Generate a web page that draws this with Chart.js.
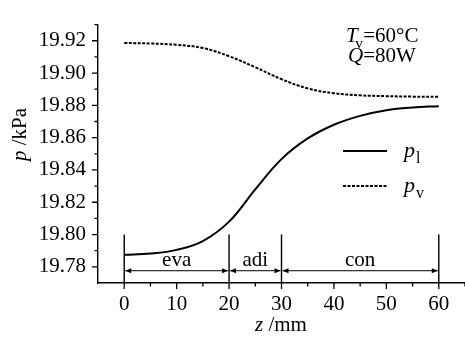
<!DOCTYPE html>
<html>
<head>
<meta charset="utf-8">
<script src="https://cdn.jsdelivr.net/npm/chart.js@4/dist/chart.umd.min.js"></script>
<style>
  html, body { margin: 0; padding: 0; background: #fff; }
  #wrap { width: 465px; height: 337px; position: relative; }
</style>
</head>
<body>
<div id="wrap"><canvas id="chart"></canvas></div>
<script>
// data
const zValues = [0, 5, 10, 15, 20, 25, 30, 35, 40, 45, 50, 55, 60]
const plValues = [19.7875, 19.7882, 19.7905, 19.7960, 19.8080, 19.8280, 19.8467, 19.8595, 19.8680, 19.8735, 19.8770, 19.8787, 19.8795]
const pvValues = [19.9186, 19.9183, 19.9175, 19.9155, 19.9104, 19.9036, 19.8962, 19.8905, 19.8875, 19.8862, 19.8857, 19.8854, 19.8853]

const xTicks = [0, 10, 20, 30, 40, 50, 60]
const xMinor = [5, 15, 25, 35, 45, 55, 65]
const yTicks = [19.78, 19.80, 19.82, 19.84, 19.86, 19.88, 19.90, 19.92]
const yMinor = [19.79, 19.81, 19.83, 19.85, 19.87, 19.89, 19.91, 19.93]

const dividers = [0, 20, 30, 60]
const regionNames = ['eva', 'adi', 'con']
const regionFrom = [0, 20, 30]
const regionTo = [20, 30, 60]
const dividerTop = 19.80
const arrowLevel = 19.7776

const SERIF = '"Liberation Serif", "Times New Roman", serif'

function drawRich(ctx, parts, x, y, size) {
  let cx = x
  parts.forEach(p => {
    const fs = p.sub ? size * 0.72 : size
    ctx.font = `${p.italic ? 'italic ' : ''}${fs}px ${SERIF}`
    ctx.fillText(p.t, cx, y + (p.sub ? size * 0.28 : 0))
    cx += ctx.measureText(p.t).width + (p.gap || 0)
  })
}

const decor = {
  id: 'decor',
  afterDraw(chart) {
    const { ctx, scales: { x, y } } = chart
    ctx.save()
    ctx.strokeStyle = '#000'
    ctx.fillStyle = '#000'
    ctx.lineWidth = 1.3

    // tick marks, outside
    const bottom = y.getPixelForValue(y.min)
    const left = x.getPixelForValue(x.min)
    ctx.beginPath()
    xTicks.forEach(v => { const px = x.getPixelForValue(v); ctx.moveTo(px, bottom); ctx.lineTo(px, bottom + 6) })
    xMinor.forEach(v => { const px = x.getPixelForValue(v); ctx.moveTo(px, bottom); ctx.lineTo(px, bottom + 3.5) })
    yTicks.forEach(v => { const py = y.getPixelForValue(v); ctx.moveTo(left, py); ctx.lineTo(left - 6, py) })
    yMinor.forEach(v => { const py = y.getPixelForValue(v); ctx.moveTo(left, py); ctx.lineTo(left - 3.5, py) })
    ctx.stroke()

    // section dividers
    ctx.lineWidth = 1.4
    ctx.beginPath()
    dividers.forEach(v => {
      const px = x.getPixelForValue(v)
      ctx.moveTo(px, y.getPixelForValue(dividerTop))
      ctx.lineTo(px, bottom)
    })
    ctx.stroke()

    // double arrows and section names
    const ay = y.getPixelForValue(arrowLevel)
    ctx.lineWidth = 1
    regionNames.forEach((name, i) => {
      const x0 = x.getPixelForValue(regionFrom[i]) + 1
      const x1 = x.getPixelForValue(regionTo[i]) - 1
      ctx.beginPath()
      ctx.moveTo(x0, ay); ctx.lineTo(x1, ay)
      ctx.stroke()
      ctx.beginPath()
      ctx.moveTo(x0, ay); ctx.lineTo(x0 + 6, ay - 2.5); ctx.lineTo(x0 + 6, ay + 2.5); ctx.closePath()
      ctx.moveTo(x1, ay); ctx.lineTo(x1 - 6, ay - 2.5); ctx.lineTo(x1 - 6, ay + 2.5); ctx.closePath()
      ctx.fill()
      ctx.font = `21px ${SERIF}`
      ctx.textAlign = 'center'
      ctx.textBaseline = 'alphabetic'
      ctx.fillText(name, (x0 + x1) / 2, ay - 5)
    })

    // legend
    ctx.textAlign = 'left'
    ctx.lineWidth = 2
    ctx.beginPath(); ctx.moveTo(343, 151); ctx.lineTo(387, 151); ctx.stroke()
    ctx.setLineDash([3, 1.5])
    ctx.beginPath(); ctx.moveTo(343, 186); ctx.lineTo(387, 186); ctx.stroke()
    ctx.setLineDash([])
    drawRich(ctx, [{ t: 'p', italic: true, gap: 1 }, { t: 'l', sub: true }], 404, 157, 22)
    drawRich(ctx, [{ t: 'p', italic: true, gap: 1 }, { t: 'v', sub: true }], 404, 192, 22)

    // condition text
    drawRich(ctx, [{ t: 'T', italic: true, gap: -2.5 }, { t: 'v', sub: true, gap: 0.5 }, { t: '=60°C' }], 346, 42, 21)
    drawRich(ctx, [{ t: 'Q', italic: true }, { t: '=80W' }], 348, 62, 21)

    // axis titles
    drawRich(ctx, [{ t: 'z', italic: true }, { t: ' /mm' }], 255, 331, 21)
    ctx.save()
    ctx.translate(26, 161)
    ctx.rotate(-Math.PI / 2)
    drawRich(ctx, [{ t: 'p', italic: true }, { t: ' /kPa' }], 0, 0, 21)
    ctx.restore()

    ctx.restore()
  }
}

new Chart(document.getElementById('chart'), {
  type: 'line',
  data: {
    datasets: [
      {
        label: 'pl',
        data: zValues.map((z, i) => ({ x: z, y: plValues[i] })),
        borderColor: '#000',
        borderWidth: 2,
        pointRadius: 0,
        tension: 0.4,
        fill: false,
      },
      {
        label: 'pv',
        data: zValues.map((z, i) => ({ x: z, y: pvValues[i] })),
        borderColor: '#000',
        borderWidth: 2,
        borderDash: [3, 1.5],
        pointRadius: 0,
        tension: 0.4,
        fill: false,
      },
    ],
  },
  options: {
    responsive: true,
    maintainAspectRatio: false,
    animation: false,
    layout: { padding: { top: 8, right: 0, left: 0, bottom: 0 } },
    plugins: { legend: { display: false }, tooltip: { enabled: false } },
    scales: {
      x: {
        type: 'linear',
        min: -5,
        max: 65,
        afterBuildTicks: s => { s.ticks = xTicks.map(v => ({ value: v })) },
        afterFit: s => { s.height = 54 },
        grid: { display: false, drawTicks: false },
        border: { display: true, color: '#000', width: 1.4 },
        ticks: {
          color: '#000',
          font: { family: SERIF, size: 21 },
          padding: 9,
          maxRotation: 0,
          autoSkip: false,
        },
      },
      y: {
        min: 19.77,
        max: 19.93,
        afterBuildTicks: s => { s.ticks = yTicks.map(v => ({ value: v })) },
        afterFit: s => { s.width = 98 },
        grid: { display: false, drawTicks: false },
        border: { display: true, color: '#000', width: 1.4 },
        ticks: {
          color: '#000',
          font: { family: SERIF, size: 21 },
          padding: 12,
          autoSkip: false,
          callback: v => v.toFixed(2),
        },
      },
    },
  },
  plugins: [decor],
})
</script>
</body>
</html>
